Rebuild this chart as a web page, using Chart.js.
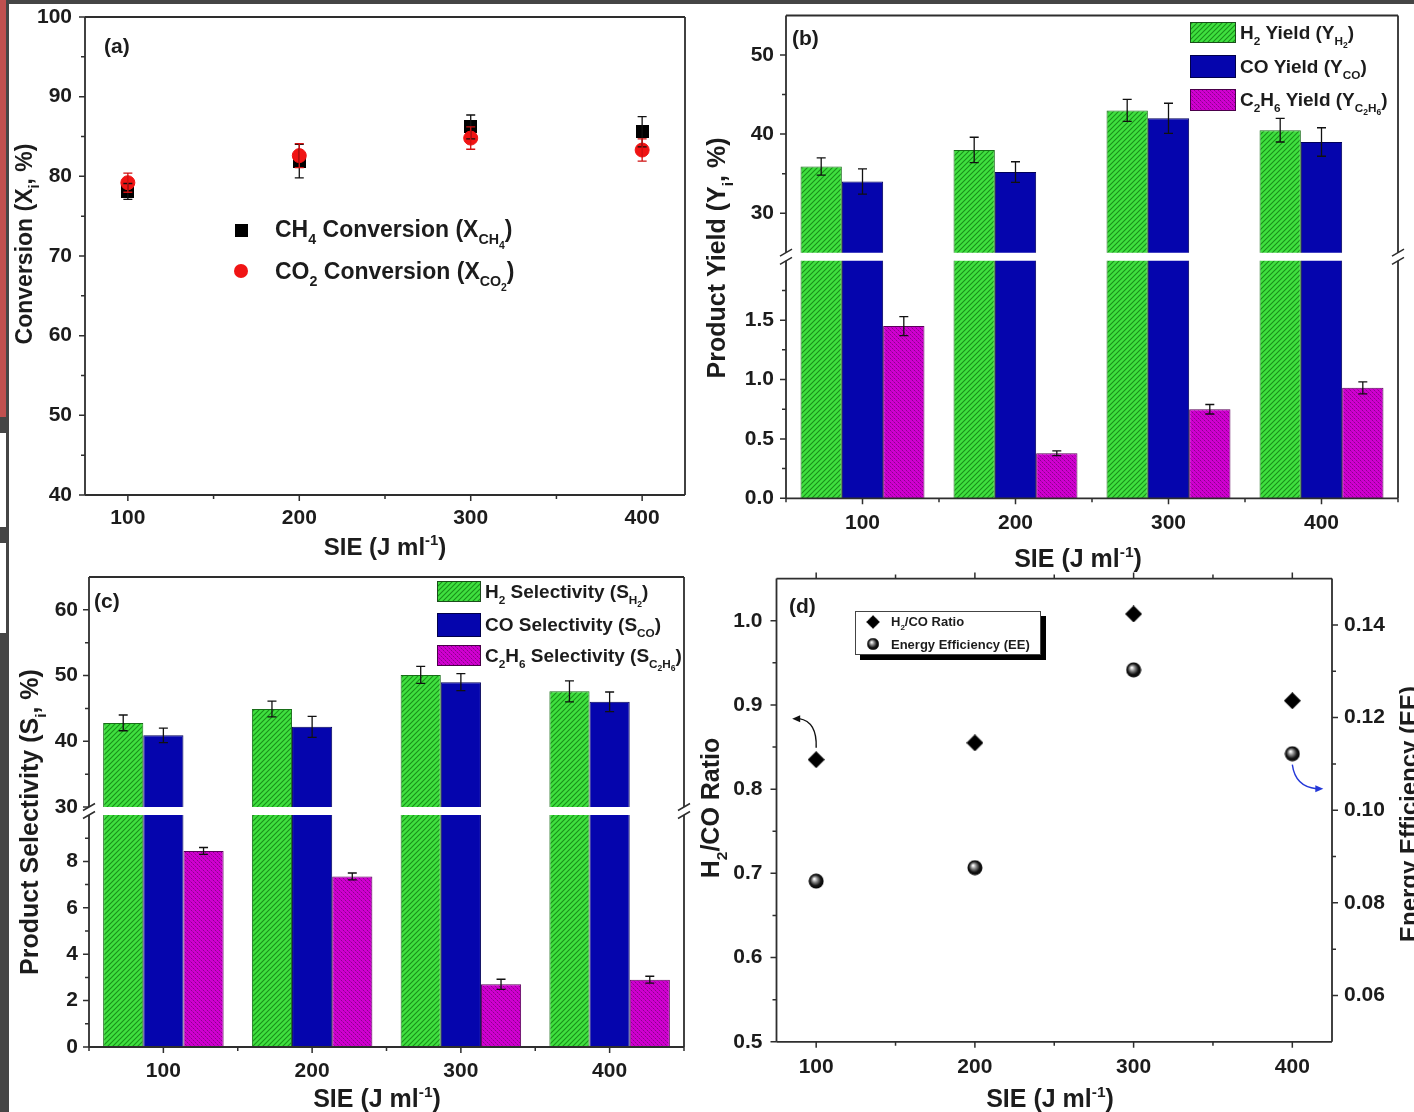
<!DOCTYPE html>
<html><head><meta charset="utf-8">
<script src="https://cdn.jsdelivr.net/npm/chart.js@4.4.1/dist/chart.umd.min.js"></script>
<style>
html,body{margin:0;padding:0;background:#fff}
body{width:1414px;height:1112px;overflow:hidden;position:relative}
canvas{position:absolute}
.deco{position:absolute}
</style></head><body>
<div class="deco" style="left:0;top:0;width:1414px;height:4px;background:#454545"></div>
<div class="deco" style="left:0;top:0;width:9px;height:1112px;background:#454545"></div>
<div class="deco" style="left:0;top:0;width:6px;height:417px;background:#c0504f"></div>
<div class="deco" style="left:0;top:433px;width:6px;height:94px;background:#fff"></div>
<div class="deco" style="left:0;top:543px;width:6px;height:90px;background:#fff"></div>
<canvas id="ca"></canvas>
<canvas id="cbTop"></canvas>
<canvas id="cbBot"></canvas>
<canvas id="ccTop"></canvas>
<canvas id="ccBot"></canvas>
<canvas id="cd"></canvas>
<script>
// ---------------- DATA ----------------
const SIE = [100, 200, 300, 400];
const CATS = ['100', '200', '300', '400'];
// (a) conversion
const CH4_CONV = [78.1, 81.9, 86.2, 85.6];
const CH4_CONV_ERR = [1.0, 2.1, 1.5, 1.9];
const CO2_CONV = [79.2, 82.6, 84.8, 83.3];
const CO2_CONV_ERR = [1.2, 1.5, 1.4, 1.4];
const A_Y_TICKS = [40, 50, 60, 70, 80, 90, 100];
const A_Y_MINOR = [45, 55, 65, 75, 85, 95];
const A_X_TICKS = [100, 200, 300, 400];
const A_X_MINOR = [150, 250, 350];
// (b) yield
const H2_YIELD = [35.9, 38.0, 43.0, 40.5];
const H2_YIELD_ERR = [1.1, 1.6, 1.4, 1.5];
const CO_YIELD = [34.0, 35.2, 42.0, 39.0];
const CO_YIELD_ERR = [1.6, 1.3, 1.9, 1.8];
const C2H6_YIELD = [1.45, 0.38, 0.75, 0.93];
const C2H6_YIELD_ERR = [0.08, 0.02, 0.04, 0.05];
const B_UP_TICKS = [30, 40, 50];
const B_UP_MINOR = [35, 45];
const B_LO_TICKS = [0, 0.5, 1.0, 1.5];
const B_LO_MINOR = [0.25, 0.75, 1.25, 1.75];
// (c) selectivity
const H2_SEL = [42.8, 44.9, 50.1, 47.6];
const H2_SEL_ERR = [1.2, 1.2, 1.3, 1.6];
const CO_SEL = [40.9, 42.2, 49.0, 46.0];
const CO_SEL_ERR = [1.1, 1.6, 1.3, 1.5];
const C2H6_SEL = [8.45, 7.35, 2.7, 2.9];
const C2H6_SEL_ERR = [0.15, 0.15, 0.22, 0.15];
const C_UP_TICKS = [30, 40, 50, 60];
const C_UP_MINOR = [35, 45, 55];
const C_LO_TICKS = [0, 2, 4, 6, 8];
const C_LO_MINOR = [1, 3, 5, 7, 9];
// (d) ratio & efficiency
const H2CO_RATIO = [0.835, 0.855, 1.008, 0.905];
const ENERGY_EFF = [0.0847, 0.0876, 0.1303, 0.1122];
const D_L_TICKS = [0.5, 0.6, 0.7, 0.8, 0.9, 1.0];
const D_L_MINOR = [0.55, 0.65, 0.75, 0.85, 0.95];
const D_R_TICKS = [0.06, 0.08, 0.10, 0.12, 0.14];
const D_R_MINOR = [0.07, 0.09, 0.11, 0.13];
const CAT_MAJOR = [0, 1, 2, 3];
const CAT_MINOR = [-0.5, 0.5, 1.5, 2.5, 3.5];

// ---------------- STYLE HELPERS ----------------
const FONT = '"Liberation Sans", Arial, sans-serif';
const INK = '#1c1c1c';
const FRAME = '#2e2e2e';
Chart.defaults.font.family = FONT;
Chart.defaults.font.weight = 'bold';
Chart.defaults.color = INK;

function tile(size, draw) {
  const c = document.createElement('canvas');
  c.width = size; c.height = size;
  const g = c.getContext('2d');
  draw(g, size);
  return g.createPattern(c, 'repeat');
}
const GREEN = tile(5, (g, s) => {
  g.fillStyle = '#3fe03f'; g.fillRect(0, 0, s, s);
  g.strokeStyle = '#1a8f1a'; g.lineWidth = 1.1;
  g.beginPath();
  g.moveTo(-1, s + 1); g.lineTo(s + 1, -1);
  g.moveTo(-1, 1); g.lineTo(1, -1);
  g.moveTo(s - 1, s + 1); g.lineTo(s + 1, s - 1);
  g.stroke();
});
const MAGENTA = tile(4, (g, s) => {
  g.fillStyle = '#d000d0'; g.fillRect(0, 0, s, s);
  g.fillStyle = '#8c008c';
  g.fillRect(0, 0, 1, 1); g.fillRect(2, 2, 1, 1);
  g.fillStyle = '#b000b0';
  g.fillRect(1, 1, 1, 1); g.fillRect(3, 3, 1, 1);
});
const BLUE = '#0505ad';

function markerCanvas(w, h, draw) {
  const c = document.createElement('canvas');
  c.width = w; c.height = h;
  draw(c.getContext('2d'), w, h);
  return c;
}
const SQUARE = markerCanvas(13, 13, (g, w, h) => { g.fillStyle = '#000'; g.fillRect(0, 0, w, h); });
const DIAMOND = markerCanvas(17, 17, (g, w, h) => {
  g.fillStyle = '#000'; g.beginPath();
  g.moveTo(w / 2, 0); g.lineTo(w, h / 2); g.lineTo(w / 2, h); g.lineTo(0, h / 2); g.closePath(); g.fill();
});
const SPHERE = markerCanvas(16, 16, (g, w, h) => {
  const gr = g.createRadialGradient(w * 0.38, h * 0.36, 0.5, w / 2, h / 2, w / 2);
  gr.addColorStop(0, '#ffffff'); gr.addColorStop(0.3, '#8a8a8a'); gr.addColorStop(0.65, '#151515'); gr.addColorStop(1, '#000');
  g.fillStyle = gr; g.beginPath(); g.arc(w / 2, h / 2, w / 2 - 0.5, 0, Math.PI * 2); g.fill();
});

// rich text: [text, kind] kind 0 normal, 1 sub, 2 sub-sub, 3 sup
const KIND = [[1, 0], [0.62, 0.3], [0.45, 0.5], [0.62, -0.42]];
function richW(ctx, parts, size) {
  let w = 0;
  for (const [t, k = 0] of parts) { ctx.font = `bold ${size * KIND[k][0]}px ${FONT}`; w += ctx.measureText(t).width; }
  return w;
}
function drawRich(ctx, parts, x, y, size, align) {
  const w = richW(ctx, parts, size);
  let cx = align === 'center' ? x - w / 2 : x;
  const base = y + size * 0.36;
  ctx.textBaseline = 'alphabetic'; ctx.textAlign = 'left'; ctx.fillStyle = INK;
  for (const [t, k = 0] of parts) {
    const [s, dy] = KIND[k];
    ctx.font = `bold ${size * s}px ${FONT}`;
    ctx.fillText(t, cx, base + dy * size);
    cx += ctx.measureText(t).width;
  }
}
const SIE_TITLE = [['SIE (J ml'], ['-1', 3], [')']];

// ---------------- PLUGIN ----------------
const decor = {
  id: 'decor',
  afterDatasetsDraw(chart, args, o) {
    if (!o.err) return;
    const ctx = chart.ctx, ca = chart.chartArea;
    ctx.save();
    ctx.beginPath(); ctx.rect(ca.left, ca.top - 1, ca.right - ca.left, ca.bottom - ca.top + 2); ctx.clip();
    for (const e of o.err) {
      const meta = chart.getDatasetMeta(e.ds);
      const ys = chart.scales[meta.yAxisID];
      const vals = chart.data.datasets[e.ds].data;
      ctx.strokeStyle = e.color || '#111'; ctx.lineWidth = 1.3;
      meta.data.forEach((el, i) => {
        const v = typeof vals[i] === 'object' ? vals[i].y : vals[i];
        const t = ys.getPixelForValue(v + e.values[i]);
        const b = ys.getPixelForValue(v - e.values[i]);
        const cw = e.cap || 4.5;
        ctx.beginPath();
        ctx.moveTo(el.x, t); ctx.lineTo(el.x, b);
        ctx.moveTo(el.x - cw, t); ctx.lineTo(el.x + cw, t);
        ctx.moveTo(el.x - cw, b); ctx.lineTo(el.x + cw, b);
        ctx.stroke();
      });
    }
    ctx.restore();
  },
  afterDraw(chart, args, o) {
    const ctx = chart.ctx, ca = chart.chartArea;
    const ox = o.ox || 0, oy = o.oy || 0;
    ctx.save();
    ctx.strokeStyle = FRAME; ctx.lineWidth = 1.8; ctx.lineCap = 'butt';
    const f = o.frame || {};
    ctx.beginPath();
    if (f.t) { ctx.moveTo(ca.left, ca.top); ctx.lineTo(ca.right, ca.top); }
    if (f.b) { ctx.moveTo(ca.left, ca.bottom); ctx.lineTo(ca.right, ca.bottom); }
    if (f.l) { ctx.moveTo(ca.left, ca.top); ctx.lineTo(ca.left, ca.bottom); }
    if (f.r) { ctx.moveTo(ca.right, ca.top); ctx.lineTo(ca.right, ca.bottom); }
    ctx.stroke();
    // ticks
    ctx.lineWidth = 1.5;
    for (const tk of (o.ticks || [])) {
      const sc = chart.scales[tk.scale];
      const draw = (vals, len) => {
        ctx.beginPath();
        for (const v of vals) {
          const p = sc.getPixelForValue(v);
          if (tk.side === 'left') { ctx.moveTo(ca.left, p); ctx.lineTo(ca.left - len, p); }
          if (tk.side === 'right') { ctx.moveTo(ca.right, p); ctx.lineTo(ca.right + len, p); }
          if (tk.side === 'bottom') { ctx.moveTo(p, ca.bottom); ctx.lineTo(p, ca.bottom + len); }
          if (tk.side === 'top') { ctx.moveTo(p, ca.top); ctx.lineTo(p, ca.top - len); }
        }
        ctx.stroke();
      };
      draw(tk.major || [], 6);
      draw(tk.minor || [], 4);
    }
    // axis breaks
    if (o.breakAt) {
      const y = o.breakAt === 'top' ? ca.top : ca.bottom;
      ctx.lineWidth = 1.5;
      ctx.beginPath();
      for (const x of [ca.left, ca.right]) { ctx.moveTo(x - 6, y + 3.5); ctx.lineTo(x + 6, y - 3.5); }
      ctx.stroke();
    }
    // boxes (legend swatches / frames)
    for (const bx of (o.boxes || [])) {
      const x = bx.x - ox, y = bx.y - oy;
      if (bx.shadow) { ctx.fillStyle = '#000'; ctx.fillRect(x + 5, y + 5, bx.w, bx.h); }
      if (bx.fill) { ctx.fillStyle = bx.fill; ctx.fillRect(x, y, bx.w, bx.h); }
      if (bx.stroke) { ctx.strokeStyle = bx.stroke; ctx.lineWidth = 1; ctx.strokeRect(x + 0.5, y + 0.5, bx.w - 1, bx.h - 1); }
    }
    for (const m of (o.markers || [])) {
      const x = m.x - ox, y = m.y - oy;
      if (m.img) {
        const s = m.s || 1, w = m.img.width * s, h = m.img.height * s;
        ctx.drawImage(m.img, x - w / 2, y - h / 2, w, h);
      }
      if (m.circle) { ctx.fillStyle = m.circle; ctx.beginPath(); ctx.arc(x, y, m.r, 0, Math.PI * 2); ctx.fill(); }
    }
    // arrows
    for (const a of (o.arrows ? o.arrows(chart) : [])) {
      ctx.strokeStyle = a.color; ctx.fillStyle = a.color; ctx.lineWidth = 1.4;
      ctx.beginPath(); ctx.moveTo(a.p0[0], a.p0[1]); ctx.quadraticCurveTo(a.c[0], a.c[1], a.p1[0], a.p1[1]); ctx.stroke();
      const d = a.dir;
      ctx.beginPath();
      ctx.moveTo(a.p1[0] + d * 7, a.p1[1]);
      ctx.lineTo(a.p1[0] - d * 1, a.p1[1] - 3.5);
      ctx.lineTo(a.p1[0] - d * 1, a.p1[1] + 3.5);
      ctx.closePath(); ctx.fill();
    }
    // texts
    for (const t of (o.texts || [])) {
      ctx.save();
      ctx.translate(t.x - ox, t.y - oy);
      if (t.rot) ctx.rotate(t.rot * Math.PI / 180);
      drawRich(ctx, t.parts, 0, 0, t.size, t.align || 'left');
      ctx.restore();
    }
    ctx.restore();
  }
};
Chart.register(decor);

// ---------------- LAYOUT HELPERS ----------------
function place(id, r) {
  const c = document.getElementById(id);
  c.width = r.w; c.height = r.h;
  c.style.left = r.x + 'px'; c.style.top = r.y + 'px';
  return c;
}
const fixW = w => s => { s.width = w; s.paddingTop = 0; s.paddingBottom = 0; };
const fixH = h => s => { s.height = h; s.paddingLeft = 0; s.paddingRight = 0; };
const setTicks = vals => s => { s.ticks = vals.map(v => ({ value: v })); };
const NOGRID = { display: false, drawTicks: false };
const NOBORDER = { display: false };
function linY(min, max, ticks, fmt, width, pad, position) {
  return {
    type: 'linear', position: position || 'left', min, max,
    afterBuildTicks: setTicks(ticks), afterFit: fixW(width),
    grid: NOGRID, border: NOBORDER,
    ticks: { padding: pad, font: { size: 21, weight: 'bold' }, color: INK, callback: fmt }
  };
}
const f0 = v => String(v);
const f1 = v => v.toFixed(1);
const f2 = v => v.toFixed(2);
const BASE = { responsive: false, animation: false, devicePixelRatio: 1, events: [] };
const NOPLUG = { legend: { display: false }, tooltip: { enabled: false } };

// ---------------- (a) ----------------
{
  const R = { x: 9, y: 0, w: 691, h: 565 };
  const A = { l: 85, t: 17, r: 685, b: 495 };
  place('ca', R);
  new Chart('ca', {
    type: 'scatter',
    data: {
      datasets: [
        { label: 'CH4', data: SIE.map((x, i) => ({ x, y: CH4_CONV[i] })), pointStyle: SQUARE, order: 1 },
        { label: 'CO2', data: SIE.map((x, i) => ({ x, y: CO2_CONV[i] })), pointStyle: 'circle', pointRadius: 7,
          backgroundColor: '#f01414', borderColor: '#f01414', order: 0 }
      ]
    },
    options: Object.assign({}, BASE, {
      layout: { padding: { top: A.t - R.y, right: R.x + R.w - A.r, left: 0, bottom: 0 } },
      scales: {
        x: { type: 'linear', min: 75, max: 425, afterBuildTicks: setTicks(A_X_TICKS), afterFit: fixH(R.y + R.h - A.b),
             grid: NOGRID, border: NOBORDER, ticks: { padding: 11, font: { size: 21, weight: 'bold' }, color: INK } },
        y: linY(40, 100, A_Y_TICKS, f0, A.l - R.x, 13)
      },
      plugins: Object.assign({}, NOPLUG, {
        decor: {
          ox: R.x, oy: R.y,
          frame: { t: 1, b: 1, l: 1, r: 1 },
          ticks: [{ scale: 'x', side: 'bottom', major: A_X_TICKS, minor: A_X_MINOR },
                  { scale: 'y', side: 'left', major: A_Y_TICKS, minor: A_Y_MINOR }],
          err: [{ ds: 0, values: CH4_CONV_ERR, color: '#111' }, { ds: 1, values: CO2_CONV_ERR, color: '#d01010' }],
          markers: [{ img: SQUARE, x: 241, y: 230 }, { circle: '#f01414', r: 7, x: 241, y: 271 }],
          texts: [
            { parts: [['(a)']], x: 104, y: 45, size: 21 },
            { parts: [['CH'], ['4', 1], [' Conversion (X'], ['CH', 1], ['4', 2], [')']], x: 275, y: 229, size: 23 },
            { parts: [['CO'], ['2', 1], [' Conversion (X'], ['CO', 1], ['2', 2], [')']], x: 275, y: 271, size: 23 },
            { parts: [['Conversion (X'], ['i', 1], [', %)']], x: 24, y: 244, size: 23, rot: -90, align: 'center' },
            { parts: SIE_TITLE, x: 385, y: 546, size: 24, align: 'center' }
          ]
        }
      })
    })
  });
}

// ---------------- bar panels helper ----------------
function barDatasets(h2, co, c2) {
  const common = { categoryPercentage: 0.81, barPercentage: 1.0, borderWidth: 1, borderSkipped: 'start' };
  return [
    Object.assign({ data: h2, backgroundColor: GREEN, borderColor: '#186e18' }, common),
    Object.assign({ data: co, backgroundColor: BLUE, borderColor: '#00005a' }, common),
    Object.assign({ data: c2, backgroundColor: MAGENTA, borderColor: '#5a005a' }, common)
  ];
}
function brokenBarPanel(idTop, idBot, R, A, upper, lower, errs, decoTop, decoBot) {
  place(idTop, R); place(idBot, R);
  new Chart(idTop, {
    type: 'bar',
    data: { labels: CATS, datasets: barDatasets(...upper.data) },
    options: Object.assign({}, BASE, {
      layout: { padding: { top: A.t - R.y, right: R.x + R.w - A.r, left: 0, bottom: R.y + R.h - A.bu } },
      scales: {
        x: { type: 'category', offset: true, display: false, grid: NOGRID },
        y: linY(upper.min, upper.max, upper.ticks, f0, A.l - R.x, A.pad)
      },
      plugins: Object.assign({}, NOPLUG, {
        decor: Object.assign({
          ox: R.x, oy: R.y, frame: { t: 1, l: 1, r: 1 }, breakAt: 'bottom',
          ticks: [{ scale: 'y', side: 'left', major: upper.ticks, minor: upper.minor }],
          err: errs
        }, decoTop)
      })
    })
  });
  new Chart(idBot, {
    type: 'bar',
    data: { labels: CATS, datasets: barDatasets(...lower.data) },
    options: Object.assign({}, BASE, {
      layout: { padding: { top: A.tl - R.y, right: R.x + R.w - A.r, left: 0, bottom: 0 } },
      scales: {
        x: { type: 'category', offset: true, afterFit: fixH(R.y + R.h - A.b), grid: NOGRID, border: NOBORDER,
             ticks: { padding: A.xpad, font: { size: 21, weight: 'bold' }, color: INK } },
        y: linY(lower.min, lower.max, lower.ticks, lower.fmt, A.l - R.x, A.pad)
      },
      plugins: Object.assign({}, NOPLUG, {
        decor: Object.assign({
          ox: R.x, oy: R.y, frame: { b: 1, l: 1, r: 1 }, breakAt: 'top',
          ticks: [{ scale: 'y', side: 'left', major: lower.ticks, minor: lower.minor },
                  { scale: 'x', side: 'bottom', major: CAT_MAJOR, minor: CAT_MINOR }],
          err: errs
        }, decoBot)
      })
    })
  });
}

// ---------------- (b) ----------------
{
  const R = { x: 700, y: 0, w: 714, h: 575 };
  const A = { l: 786, t: 15.5, bu: 252.7, tl: 260.8, b: 498.3, r: 1398, pad: 12, xpad: 12 };
  const errs = [{ ds: 0, values: H2_YIELD_ERR }, { ds: 1, values: CO_YIELD_ERR }, { ds: 2, values: C2H6_YIELD_ERR }];
  const data = [H2_YIELD, CO_YIELD, C2H6_YIELD];
  brokenBarPanel('cbTop', 'cbBot', R, A,
    { data, min: 25, max: 55, ticks: B_UP_TICKS, minor: B_UP_MINOR },
    { data, min: 0, max: 2, ticks: B_LO_TICKS, minor: B_LO_MINOR, fmt: f1 },
    errs, {},
    {
      boxes: [
        { x: 1190, y: 22, w: 46, h: 21, fill: GREEN, stroke: '#1b4d1b' },
        { x: 1190, y: 55, w: 46, h: 23, fill: BLUE, stroke: '#00004a' },
        { x: 1190, y: 89, w: 46, h: 22, fill: MAGENTA, stroke: '#4a004a' }
      ],
      texts: [
        { parts: [['(b)']], x: 792, y: 37, size: 21 },
        { parts: [['H'], ['2', 1], [' Yield (Y'], ['H', 1], ['2', 2], [')']], x: 1240, y: 32, size: 19 },
        { parts: [['CO Yield (Y'], ['CO', 1], [')']], x: 1240, y: 66, size: 19 },
        { parts: [['C'], ['2', 1], ['H'], ['6', 1], [' Yield (Y'], ['C', 1], ['2', 2], ['H', 1], ['6', 2], [')']], x: 1240, y: 99, size: 19 },
        { parts: [['Product Yield (Y'], ['i', 1], [', %)']], x: 716, y: 258, size: 25, rot: -90, align: 'center' },
        { parts: SIE_TITLE, x: 1078, y: 558, size: 25, align: 'center' }
      ]
    });
}

// ---------------- (c) ----------------
{
  const R = { x: 9, y: 560, w: 691, h: 552 };
  const A = { l: 89, t: 577, bu: 807, tl: 815, b: 1047, r: 684, pad: 11, xpad: 12 };
  const errs = [{ ds: 0, values: H2_SEL_ERR }, { ds: 1, values: CO_SEL_ERR }, { ds: 2, values: C2H6_SEL_ERR }];
  const data = [H2_SEL, CO_SEL, C2H6_SEL];
  brokenBarPanel('ccTop', 'ccBot', R, A,
    { data, min: 30, max: 65, ticks: C_UP_TICKS, minor: C_UP_MINOR },
    { data, min: 0, max: 10, ticks: C_LO_TICKS, minor: C_LO_MINOR, fmt: f0 },
    errs, {},
    {
      boxes: [
        { x: 437, y: 581, w: 44, h: 21, fill: GREEN, stroke: '#1b4d1b' },
        { x: 437, y: 613, w: 44, h: 24, fill: BLUE, stroke: '#00004a' },
        { x: 437, y: 645, w: 44, h: 21, fill: MAGENTA, stroke: '#4a004a' }
      ],
      texts: [
        { parts: [['(c)']], x: 94, y: 600, size: 21 },
        { parts: [['H'], ['2', 1], [' Selectivity (S'], ['H', 1], ['2', 2], [')']], x: 485, y: 591, size: 19 },
        { parts: [['CO Selectivity (S'], ['CO', 1], [')']], x: 485, y: 624, size: 19 },
        { parts: [['C'], ['2', 1], ['H'], ['6', 1], [' Selectivity (S'], ['C', 1], ['2', 2], ['H', 1], ['6', 2], [')']], x: 485, y: 655, size: 19 },
        { parts: [['Product Selectivity (S'], ['i', 1], [', %)']], x: 29, y: 822, size: 25, rot: -90, align: 'center' },
        { parts: SIE_TITLE, x: 377, y: 1098, size: 25, align: 'center' }
      ]
    });
}

// ---------------- (d) ----------------
{
  const R = { x: 700, y: 560, w: 714, h: 552 };
  const A = { l: 776.5, t: 578.6, r: 1332, b: 1041.8 };
  place('cd', R);
  new Chart('cd', {
    type: 'scatter',
    data: {
      datasets: [
        { label: 'H2/CO Ratio', data: SIE.map((x, i) => ({ x, y: H2CO_RATIO[i] })), pointStyle: DIAMOND, yAxisID: 'y' },
        { label: 'Energy Efficiency (EE)', data: SIE.map((x, i) => ({ x, y: ENERGY_EFF[i] })), pointStyle: SPHERE, yAxisID: 'y1' }
      ]
    },
    options: Object.assign({}, BASE, {
      layout: { padding: { top: A.t - R.y, right: 0, left: 0, bottom: 0 } },
      scales: {
        x: { type: 'linear', min: 75, max: 425, afterBuildTicks: setTicks(A_X_TICKS), afterFit: fixH(R.y + R.h - A.b),
             grid: NOGRID, border: NOBORDER, ticks: { padding: 13, font: { size: 21, weight: 'bold' }, color: INK } },
        y: linY(0.5, 1.05, D_L_TICKS, f1, A.l - R.x, 14),
        y1: linY(0.05, 0.15, D_R_TICKS, f2, R.x + R.w - A.r, 12, 'right')
      },
      plugins: Object.assign({}, NOPLUG, {
        decor: {
          ox: R.x, oy: R.y,
          frame: { t: 1, b: 1, l: 1, r: 1 },
          ticks: [{ scale: 'x', side: 'bottom', major: A_X_TICKS, minor: A_X_MINOR },
                  { scale: 'x', side: 'top', major: A_X_TICKS, minor: A_X_MINOR },
                  { scale: 'y', side: 'left', major: D_L_TICKS, minor: D_L_MINOR },
                  { scale: 'y1', side: 'right', major: D_R_TICKS, minor: D_R_MINOR }],
          boxes: [{ x: 855, y: 611, w: 186, h: 44, fill: '#fff', stroke: '#444', shadow: true }],
          markers: [{ img: DIAMOND, x: 873, y: 622, s: 0.8 }, { img: SPHERE, x: 873, y: 644, s: 0.8 }],
          arrows: ch => {
            const xs = ch.scales.x, yl = ch.scales.y, yr = ch.scales.y1;
            const x0 = xs.getPixelForValue(SIE[0]), y0 = yl.getPixelForValue(H2CO_RATIO[0]) - 12;
            const x3 = xs.getPixelForValue(SIE[3]), y3 = yr.getPixelForValue(ENERGY_EFF[3]) + 11;
            return [
              { color: '#111', p0: [x0, y0], c: [x0 + 1, y0 - 26], p1: [x0 - 17, y0 - 29], dir: -1 },
              { color: '#2438d8', p0: [x3, y3], c: [x3 + 3, y3 + 22], p1: [x3 + 24, y3 + 24], dir: 1 }
            ];
          },
          texts: [
            { parts: [['(d)']], x: 789, y: 605, size: 21 },
            { parts: [['H'], ['2', 1], ['/CO Ratio']], x: 891, y: 621, size: 13 },
            { parts: [['Energy Efficiency (EE)']], x: 891, y: 644, size: 13 },
            { parts: [['H'], ['2', 1], ['/CO Ratio']], x: 710, y: 808, size: 25, rot: -90, align: 'center' },
            { parts: [['Energy Efficiency (EE)']], x: 1408, y: 814, size: 24, rot: -90, align: 'center' },
            { parts: SIE_TITLE, x: 1050, y: 1098, size: 25, align: 'center' }
          ]
        }
      })
    })
  });
}
</script>
</body></html>
